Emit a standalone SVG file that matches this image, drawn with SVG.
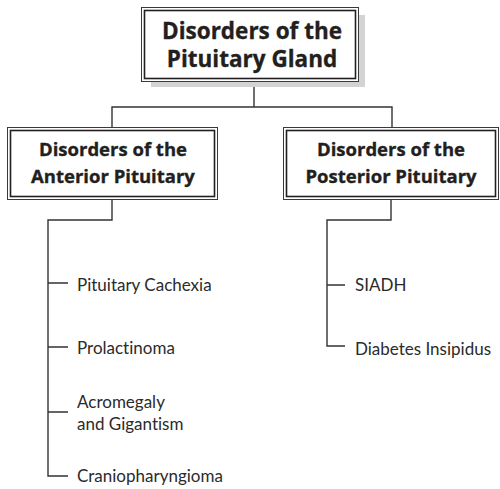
<svg xmlns="http://www.w3.org/2000/svg" width="500" height="489" viewBox="0 0 500 489">
<style>
.outer{fill:#fff;stroke:#3a3a3a;stroke-width:1}
.inner{fill:none;stroke:#231f20;stroke-width:1.6}
.title{font-family:"Open Sans",Lato,"Liberation Sans",sans-serif;font-weight:700;fill:#231f20;stroke:#231f20;stroke-width:0.35;text-anchor:middle}
.item{font-family:Lato,"Open Sans","Liberation Sans",sans-serif;font-weight:400;font-size:17px;fill:#2b2b2b;font-variant-ligatures:none}
.conn{fill:none;stroke:#333;stroke-width:1.4}
</style>
<rect width="500" height="489" fill="#fff"/>
<g id="connectors">
<path class="conn" d="M254 82V107M112 127V107H392V127"/>
<path class="conn" d="M112 200V220H48V476H68M48 283H68M48 347H68M48 412H68"/>
<path class="conn" d="M391 200V220H327V346H345M327 285H345"/>
</g>
<g id="root">
<rect x="151" y="15" width="214" height="72" fill="#d3d3d3"/>
<rect class="outer" x="141.5" y="7.5" width="217" height="74"/>
<rect class="inner" x="144.5" y="10.5" width="211" height="68"/>
<text class="title" x="252" y="39" font-size="22.5">Disorders of the</text>
<text class="title" x="252" y="67" font-size="22.5">Pituitary Gland</text>
</g>
<g id="anterior">
<rect class="outer" x="7.5" y="127.5" width="210" height="72"/>
<rect class="inner" x="10.5" y="130.5" width="204" height="66"/>
<text class="title" x="113" y="156" font-size="18.5">Disorders of the</text>
<text class="title" x="113" y="183" font-size="18.5">Anterior Pituitary</text>
</g>
<g id="posterior">
<rect class="outer" x="283.5" y="127.5" width="215" height="72"/>
<rect class="inner" x="286.5" y="130.5" width="209" height="66"/>
<text class="title" x="391" y="156" font-size="18.5">Disorders of the</text>
<text class="title" x="391" y="183" font-size="18.5">Posterior Pituitary</text>
</g>
<g id="item-cachexia"><text class="item" x="77" y="291">Pituitary Cachexia</text></g>
<g id="item-prolactinoma"><text class="item" x="77" y="354">Prolactinoma</text></g>
<g id="item-acromegaly"><text class="item" x="77" y="408">Acromegaly</text><text class="item" x="77" y="430">and Gigantism</text></g>
<g id="item-cranio"><text class="item" x="77" y="482">Craniopharyngioma</text></g>
<g id="item-siadh"><text class="item" x="355" y="291">SIADH</text></g>
<g id="item-di"><text class="item" x="355" y="355">Diabetes Insipidus</text></g>
</svg>
